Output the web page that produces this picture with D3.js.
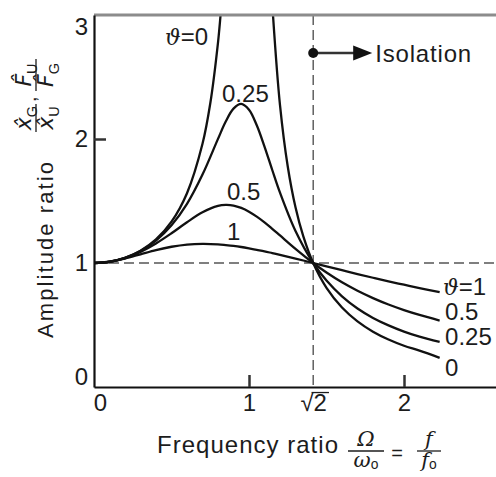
<!DOCTYPE html>
<html><head><meta charset="utf-8">
<script src="https://cdn.jsdelivr.net/npm/d3@7"></script>
<style>
body{margin:0;background:#fff}
text{font-family:"Liberation Sans",Arial,Helvetica,sans-serif;fill:#1c1c1c}
</style>
</head><body>
<svg id="c" width="496" height="477"></svg>
<script>
// ---- data ----
const freqRatio = [0, 0.1, 0.2, 0.3, 0.4, 0.5, 0.6, 0.7, 0.8, 0.85, 0.9, 0.95, 1.0, 1.05, 1.1, 1.15, 1.2, 1.3, 1.414, 1.5, 1.6, 1.7, 1.8, 1.9, 2.0, 2.1, 2.23];
const theta1   = [1.00, 1.010, 1.036, 1.070, 1.104, 1.131, 1.149, 1.155, 1.151, 1.145, 1.138, 1.129, 1.118, 1.106, 1.094, 1.080, 1.066, 1.036, 1.0, 0.973, 0.942, 0.911, 0.881, 0.852, 0.825, 0.798, 0.765];
const theta05  = [1.00, 1.010, 1.040, 1.090, 1.158, 1.240, 1.329, 1.409, 1.460, 1.468, 1.463, 1.444, 1.414, 1.374, 1.328, 1.276, 1.222, 1.114, 1.0, 0.923, 0.844, 0.776, 0.717, 0.665, 0.620, 0.581, 0.536];
const theta025 = [1.00, 1.010, 1.041, 1.097, 1.181, 1.304, 1.477, 1.713, 2.001, 2.141, 2.245, 2.283, 2.236, 2.111, 1.939, 1.750, 1.567, 1.258, 1.0, 0.858, 0.731, 0.633, 0.557, 0.497, 0.447, 0.406, 0.363];
const theta0LeftX  = [0, 0.1, 0.2, 0.3, 0.4, 0.5, 0.6, 0.7, 0.75, 0.8, 0.8165];
const theta0LeftY  = [1.0, 1.010, 1.042, 1.099, 1.190, 1.333, 1.563, 1.961, 2.286, 2.778, 3.0];
const theta0RightX = [1.1547, 1.2, 1.25, 1.3, 1.35, 1.414, 1.5, 1.6, 1.7, 1.8, 1.9, 2.0, 2.1, 2.23];
const theta0RightY = [3.0, 2.273, 1.778, 1.449, 1.216, 1.0, 0.800, 0.641, 0.529, 0.446, 0.383, 0.333, 0.293, 0.235];

const xTickValues = [0, 1, Math.SQRT2, 2];
const xTickLabels = ["0", "1", "√2", "2"];
const xTickMarks  = [1, 2];
const yTickValues = [0, 1, 2, 3];
const yTickLabels = ["0", "1", "2", "3"];
const yTickMarks  = [2];

const leftLabels  = [["ϑ", "=0", 0.458, 2.758], ["", "0.25", 0.826, 2.298], ["", "0.5", 0.858, 1.508], ["", "1", 0.858, 1.185]];
const rightLabels = [["ϑ", "=1", 2.252, 0.742], ["", "0.5", 2.265, 0.540], ["", "0.25", 2.265, 0.339], ["", "0", 2.265, 0.089]];

// ---- chart ----
const svg = d3.select("#c");
const x = d3.scaleLinear().domain([0, 2.6]).range([94, 497]);
const y = d3.scaleLinear().domain([0, 3]).range([387, 15]);
const FS = 24;
const SANS = '"Liberation Sans",Arial,sans-serif';

svg.append("defs").append("clipPath").attr("id", "plot")
  .append("rect").attr("x", x(0)).attr("y", y(3)).attr("width", 496 - x(0)).attr("height", y(0) - y(3));

// dashed guides
svg.append("line").attr("x1", x(0)).attr("x2", 496).attr("y1", y(1)).attr("y2", y(1))
  .attr("stroke", "#555").attr("stroke-width", 1.4).attr("stroke-dasharray", "10,5");
svg.append("line").attr("x1", x(Math.SQRT2)).attr("x2", x(Math.SQRT2)).attr("y1", y(3)).attr("y2", y(0))
  .attr("stroke", "#555").attr("stroke-width", 1.4).attr("stroke-dasharray", "10,5");

// curves
const line = d3.line().x(d => x(d[0])).y(d => y(d[1])).curve(d3.curveCatmullRom.alpha(0.5));
const series = [
  d3.zip(freqRatio, theta1),
  d3.zip(freqRatio, theta05),
  d3.zip(freqRatio, theta025),
  d3.zip(theta0LeftX, theta0LeftY),
  d3.zip(theta0RightX, theta0RightY)
];
svg.append("g").attr("clip-path", "url(#plot)").selectAll("path").data(series).join("path")
  .attr("d", line).attr("fill", "none").attr("stroke", "#111").attr("stroke-width", 2.3)
  .attr("stroke-linejoin", "round");

// top border
svg.append("line").attr("x1", x(0)).attr("x2", 496).attr("y1", y(3)).attr("y2", y(3))
  .attr("stroke", "#8c8c8c").attr("stroke-width", 3);

// x axis
const xAxis = svg.append("g").attr("transform", `translate(0,${y(0)})`)
  .call(d3.axisBottom(x).tickValues(xTickValues).tickFormat((d, i) => xTickLabels[i])
    .tickSize(0).tickSizeOuter(0).tickPadding(7));
xAxis.select(".domain").attr("stroke", "#111").attr("stroke-width", 2.2);
xAxis.selectAll("text").attr("font-size", FS).attr("fill", "#1c1c1c").attr("font-family", SANS)
  .attr("dx", (d, i) => i === 0 ? 6 : 0);
svg.append("g").attr("transform", `translate(0,${y(0)})`)
  .call(d3.axisBottom(x).tickValues(xTickMarks).tickFormat("").tickSizeInner(-12).tickSizeOuter(0))
  .call(g => g.select(".domain").remove())
  .selectAll("line").attr("stroke", "#333").attr("stroke-width", 2.5);
// overline on the √2 label
xAxis.selectAll(".tick").filter((d, i) => i === 2).each(function () {
  const t = d3.select(this).select("text");
  const bb = t.node().getBBox();
  d3.select(this).append("line").attr("x1", bb.x + bb.width * 0.42).attr("x2", bb.x + bb.width + 2)
    .attr("y1", bb.y + 3.5).attr("y2", bb.y + 3.5).attr("stroke", "#1c1c1c").attr("stroke-width", 1.3);
});

// y axis
const yAxis = svg.append("g").attr("transform", `translate(${x(0)},0)`)
  .call(d3.axisLeft(y).tickValues(yTickValues).tickFormat((d, i) => yTickLabels[i])
    .tickSize(0).tickSizeOuter(0).tickPadding(6));
yAxis.select(".domain").attr("stroke", "#111").attr("stroke-width", 2.2);
yAxis.selectAll("text").attr("font-size", FS).attr("fill", "#1c1c1c").attr("font-family", SANS)
  .attr("dy", (d, i) => i === 0 ? "-0.1em" : i === 3 ? "0.8em" : "0.32em");
svg.append("g").attr("transform", `translate(${x(0)},0)`)
  .call(d3.axisLeft(y).tickValues(yTickMarks).tickFormat("").tickSizeInner(-12).tickSizeOuter(0))
  .call(g => g.select(".domain").remove())
  .selectAll("line").attr("stroke", "#333").attr("stroke-width", 2.5);

// curve labels
function curveLabel(d) {
  const t = svg.append("text").attr("x", x(d[2])).attr("y", y(d[3])).attr("font-size", FS);
  if (d[0]) t.append("tspan").attr("font-style", "italic").attr("font-family", '"DejaVu Serif",serif').attr("font-size", FS - 2).text(d[0]);
  t.append("tspan").text(d[1]);
}
leftLabels.forEach(curveLabel);
rightLabels.forEach(curveLabel);

// isolation annotation
const iy = 53, ix = x(Math.SQRT2);
svg.append("line").attr("x1", ix).attr("x2", ix + 42).attr("y1", iy).attr("y2", iy)
  .attr("stroke", "#333").attr("stroke-width", 2.5);
svg.append("path").attr("d", `M${ix + 40},${iy - 7.5}L${ix + 59},${iy}L${ix + 40},${iy + 7.5}Z`).attr("fill", "#111");
svg.append("circle").attr("cx", ix).attr("cy", iy).attr("r", 5).attr("fill", "#111");
svg.append("text").attr("x", ix + 62).attr("y", iy + 9).attr("font-size", FS).attr("textLength", 96)
  .text("Isolation");

// fraction helper
function fraction(g, cx, cy, num, den, w, fs, fam, subShift) {
  const sh = subShift == null ? 0.28 : subShift;
  const add = (t, parts) => parts.forEach(p => {
    const s = t.append("tspan").text(p.t);
    if (p.it) s.attr("font-style", "italic").attr("font-family", fam || SANS);
    if (p.sub) s.attr("font-size", fs * 0.66).attr("dy", fs * sh);
  });
  add(g.append("text").attr("x", cx).attr("y", cy - 5).attr("text-anchor", "middle").attr("font-size", fs), num);
  add(g.append("text").attr("x", cx).attr("y", cy + fs * 0.76).attr("text-anchor", "middle").attr("font-size", fs), den);
  g.append("line").attr("x1", cx - w / 2).attr("x2", cx + w / 2).attr("y1", cy).attr("y2", cy)
    .attr("stroke", "#1c1c1c").attr("stroke-width", 1.3);
}

// x axis title
svg.append("text").attr("x", 157).attr("y", 453).attr("font-size", FS).attr("textLength", 181)
  .text("Frequency ratio");
fraction(svg, 366, 451, [{t: "Ω", it: true}], [{t: "ω", it: true}, {t: "o", sub: true}], 36, 21, '"DejaVu Serif",serif', 0.12);
svg.append("text").attr("x", 397).attr("y", 460).attr("text-anchor", "middle").attr("font-size", 20).text("=");
fraction(svg, 429, 451, [{t: "f", it: true}], [{t: "f", it: true}, {t: "o", sub: true}], 24, 21, '"DejaVu Serif",serif', 0.12);

// y axis title (rotated)
const yt = svg.append("g").attr("transform", "rotate(-90)");
yt.append("text").attr("x", -338).attr("y", 53).attr("font-size", 22).attr("textLength", 176)
  .text("Amplitude ratio");
fraction(yt, -118, 36, [{t: "x\u0302", it: true}, {t: "G", sub: true}], [{t: "x\u0302", it: true}, {t: "U", sub: true}], 28, 22, '"DejaVu Sans",sans-serif');
yt.append("text").attr("x", -102).attr("y", 36).attr("font-size", 20).text(",");
fraction(yt, -75, 36, [{t: "F\u0302", it: true}, {t: "U", sub: true}], [{t: "F\u0302", it: true}, {t: "G", sub: true}], 32, 22, '"DejaVu Sans",sans-serif');
</script>
</body></html>
